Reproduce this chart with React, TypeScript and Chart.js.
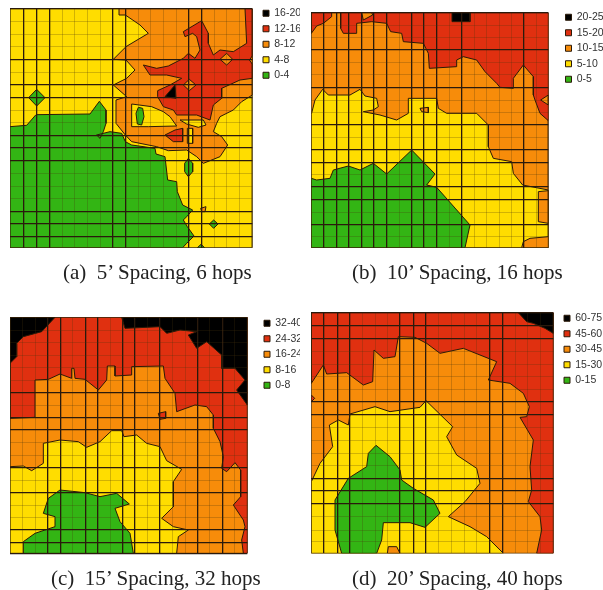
import React, { useEffect, useRef } from "react";
import { Chart, registerables } from "chart.js";
Chart.register(...registerables);

type Poly = number[];
type Layer = [number, Poly];

const colors = ["#000000", "#e03010", "#f78c0a", "#ffdd00", "#33b514"];
const lineColor = "#2b1a08";

const levelsA = ["16-20", "12-16", "8-12", "4-8", "0-4"];
const levelsB = ["20-25", "15-20", "10-15", "5-10", "0-5"];
const levelsC = ["32-40", "24-32", "16-24", "8-16", "0-8"];
const levelsD = ["60-75", "45-60", "30-45", "15-30", "0-15"];

const gridAx = [30, 70, 110, 148, 186, 224, 262, 300, 338, 376, 414, 452, 490, 528, 566, 604, 642, 680, 718, 757];
const gridAy = [26, 64, 102, 140, 178, 216, 254, 292, 330, 368, 406, 444, 482, 520, 558, 596, 634, 672, 710, 743];
const strongAx = [70, 110, 148, 338, 376, 566, 604];
const strongAy = [26, 178, 254, 292, 406, 444, 482, 634, 672, 710];

const gridBx = [34, 72, 110, 147, 185, 222, 260, 298, 335, 372, 410, 447, 485, 522, 560, 597, 634, 671, 708, 745];
const gridBy = [38, 75, 112, 150, 187, 224, 262, 300, 337, 374, 412, 449, 487, 524, 561, 599, 636, 673, 710, 743];
const strongBx = [72, 110, 147, 185, 222, 260, 335, 372, 410, 485, 671];
const strongBy = [38, 150, 262, 374, 449, 487, 561, 599, 673];

const gridCx = [30, 68, 106, 143, 181, 218, 256, 294, 331, 368, 405, 443, 480, 518, 555, 592, 629, 667, 704, 742];
const gridCy = [52, 90, 128, 165, 203, 240, 278, 315, 353, 390, 428, 465, 503, 540, 578, 615, 652, 690, 727, 760];
const strongCx = [143, 181, 256, 294, 368, 405, 480, 592, 667];
const strongCy = [278, 353, 390, 503, 578, 690, 727, 760];

const gridDx = [34, 72, 112, 150, 187, 225, 263, 300, 340, 378, 415, 455, 492, 530, 570, 608, 645, 683, 720, 760];
const gridDy = [38, 78, 116, 155, 192, 230, 268, 305, 344, 382, 420, 460, 497, 535, 573, 612, 650, 690, 725, 760];
const strongDx = [72, 112, 150, 300, 340, 378, 570, 608];
const strongDy = [38, 78, 116, 305, 344, 535, 573, 612];

// Contour regions, top layer first. [level index, x,y,x,y,...]
const layersA: Layer[] = [
  [0, [495, 290, 525, 255, 528, 295]],
  [2, [660, 178, 680, 160, 698, 178, 680, 195]],
  [2, [550, 255, 568, 238, 588, 255, 568, 272]],
  [2, [757, 168, 748, 180, 757, 192]],
  [3, [540, 360, 610, 360, 618, 375, 595, 382, 560, 372]],
  [3, [562, 385, 578, 385, 578, 430, 562, 430]],
  [1, [495, 405, 525, 390, 548, 385, 548, 425, 520, 425]],
  [1, [430, 195, 470, 205, 505, 198, 550, 175, 565, 160, 585, 175, 600, 150, 590, 110, 578, 100, 555, 110, 550, 95, 605, 62, 625, 100, 625, 130, 640, 165, 660, 150, 700, 155, 740, 130, 735, 26, 757, 26, 757, 235, 720, 240, 665, 265, 665, 295, 640, 315, 630, 360, 590, 345, 530, 345, 520, 330, 490, 320, 473, 290, 473, 272, 510, 255, 545, 235, 500, 225, 450, 225]],
  [4, [408, 340, 415, 322, 428, 325, 432, 350, 425, 375, 412, 372]],
  [3, [395, 312, 455, 320, 490, 335, 510, 350, 530, 378, 445, 380, 395, 380]],
  [2, [602, 625, 618, 620, 615, 635, 605, 635]],
  [2, [376, 26, 757, 26, 757, 285, 725, 305, 700, 330, 660, 350, 650, 370, 640, 395, 665, 410, 683, 435, 660, 470, 610, 490, 590, 470, 560, 450, 505, 452, 470, 440, 395, 425, 376, 405, 348, 370, 348, 300, 380, 290, 340, 255, 380, 235, 405, 210, 378, 180, 340, 178, 378, 140, 445, 100, 420, 75, 376, 45, 357, 45, 357, 26]],
  [4, [86, 293, 110, 268, 135, 293, 110, 318]],
  [4, [554, 490, 565, 475, 578, 490, 578, 515, 565, 530, 554, 515]],
  [4, [628, 672, 641, 660, 654, 672, 641, 685]],
  [4, [592, 743, 603, 733, 614, 743]],
  [4, [30, 380, 80, 376, 108, 344, 270, 342, 298, 304, 318, 330, 318, 370, 310, 395, 300, 415, 290, 405, 330, 395, 365, 400, 376, 425, 395, 435, 465, 445, 468, 462, 495, 470, 503, 540, 530, 545, 532, 575, 548, 615, 578, 630, 560, 650, 550, 660, 562, 680, 582, 708, 560, 730, 548, 743, 30, 743]],
  [3, [30, 26, 757, 26, 757, 743, 30, 743]],
];

const layersB: Layer[] = [
  [0, [456, 38, 510, 38, 510, 65, 456, 65]],
  [2, [722, 300, 745, 285, 745, 315]],
  [2, [185, 38, 215, 38, 218, 45, 190, 60]],
  [1, [34, 100, 50, 78, 70, 70, 95, 50, 95, 38, 34, 38]],
  [1, [122, 38, 122, 85, 130, 100, 168, 100, 170, 70, 215, 65, 260, 70, 272, 95, 305, 100, 310, 125, 370, 130, 385, 160, 388, 205, 470, 200, 470, 180, 490, 170, 530, 180, 555, 215, 590, 250, 600, 262, 640, 265, 640, 235, 670, 195, 700, 230, 700, 285, 705, 300, 720, 340, 745, 362, 745, 38]],
  [4, [34, 535, 50, 540, 90, 535, 100, 510, 145, 498, 180, 510, 220, 490, 260, 522, 335, 450, 405, 522, 380, 555, 410, 562, 510, 675, 495, 743, 34, 743]],
  [2, [360, 325, 385, 322, 385, 338, 365, 335]],
  [2, [715, 575, 745, 572, 745, 670, 715, 665]],
  [2, [745, 710, 690, 715, 670, 725, 665, 743, 745, 743]],
  [3, [34, 343, 45, 300, 68, 268, 85, 285, 150, 285, 180, 268, 195, 288, 230, 295, 235, 320, 220, 330, 190, 335, 240, 345, 290, 360, 325, 340, 325, 295, 410, 295, 415, 325, 440, 340, 530, 340, 550, 360, 565, 375, 565, 440, 580, 475, 635, 485, 640, 520, 668, 555, 745, 570, 745, 743, 34, 743]],
  [2, [34, 38, 745, 38, 745, 743, 34, 743]],
];

const layersC: Layer[] = [
  [0, [30, 52, 165, 52, 125, 95, 70, 110, 50, 130, 50, 170, 30, 190]],
  [0, [365, 52, 375, 85, 480, 80, 500, 100, 540, 90, 590, 95, 565, 105, 590, 145, 620, 125, 665, 165, 665, 205, 705, 205, 735, 240, 710, 270, 742, 315, 742, 52]],
  [1, [475, 340, 497, 335, 497, 355, 480, 358]],
  [1, [30, 355, 105, 352, 105, 240, 145, 238, 180, 222, 215, 235, 215, 205, 222, 205, 225, 235, 255, 238, 295, 270, 320, 240, 322, 198, 345, 198, 345, 228, 395, 225, 395, 200, 490, 198, 495, 235, 525, 280, 530, 335, 585, 315, 620, 320, 640, 345, 640, 385, 660, 425, 670, 470, 665, 505, 680, 515, 705, 488, 722, 510, 722, 590, 700, 615, 730, 660, 735, 680, 725, 720, 730, 760, 742, 760, 742, 52, 30, 52]],
  [4, [70, 760, 70, 725, 105, 700, 165, 680, 165, 650, 130, 640, 145, 595, 180, 570, 255, 578, 300, 590, 350, 580, 388, 612, 345, 625, 360, 665, 390, 700, 400, 760]],
  [3, [30, 500, 70, 498, 95, 512, 130, 490, 130, 430, 180, 420, 235, 425, 260, 442, 300, 425, 335, 392, 365, 392, 372, 410, 410, 405, 440, 430, 480, 440, 500, 482, 545, 508, 520, 545, 520, 620, 485, 655, 520, 680, 565, 690, 535, 710, 530, 760, 30, 760]],
  [2, [30, 52, 742, 52, 742, 760, 30, 760]],
];

const layersD: Layer[] = [
  [0, [655, 38, 760, 38, 760, 100, 735, 85, 700, 70, 680, 65]],
  [1, [34, 250, 70, 195, 80, 222, 140, 218, 190, 255, 218, 245, 222, 150, 250, 175, 285, 170, 295, 110, 345, 112, 380, 130, 420, 160, 490, 145, 540, 165, 590, 185, 565, 240, 630, 250, 670, 280, 688, 320, 680, 350, 660, 352, 700, 420, 690, 500, 695, 570, 685, 605, 720, 650, 725, 690, 710, 760, 760, 760, 760, 38, 34, 38]],
  [1, [34, 285, 44, 295, 34, 305]],
  [4, [105, 600, 145, 535, 200, 500, 205, 460, 228, 436, 270, 470, 300, 510, 305, 540, 340, 565, 400, 600, 420, 640, 375, 682, 330, 668, 250, 668, 245, 720, 230, 760, 125, 760, 105, 690]],
  [2, [262, 760, 265, 740, 290, 740, 300, 760]],
  [3, [34, 545, 60, 490, 98, 440, 88, 375, 115, 360, 145, 375, 150, 342, 225, 320, 270, 335, 360, 322, 378, 302, 458, 380, 440, 410, 470, 465, 530, 505, 540, 550, 495, 605, 445, 650, 510, 680, 560, 710, 610, 760, 34, 760]],
  [2, [34, 38, 760, 38, 760, 760, 34, 760]],
];

const captions = ["(a)  5’ Spacing, 6 hops", "(b)  10’ Spacing, 16 hops", "(c)  15’ Spacing, 32 hops", "(d)  20’ Spacing, 40 hops"];

const panels = [
  { left: 0, top: 0, w: 300, layers: layersA, levels: levelsA, gx: gridAx, gy: gridAy, sx: strongAx, sy: strongAy, legendX: 263, legendY: 8, capX: 63, capY: 260 },
  { left: 300, top: 0, w: 303, layers: layersB, levels: levelsB, gx: gridBx, gy: gridBy, sx: strongBx, sy: strongBy, legendX: 265.5, legendY: 12, capX: 52, capY: 260 },
  { left: 0, top: 300, w: 300, layers: layersC, levels: levelsC, gx: gridCx, gy: gridCy, sx: strongCx, sy: strongCy, legendX: 264, legendY: 18, capX: 51, capY: 266 },
  { left: 300, top: 300, w: 303, layers: layersD, levels: levelsD, gx: gridDx, gy: gridDy, sx: strongDx, sy: strongDy, legendX: 264, legendY: 13, capX: 52, capY: 266 },
];

const H = 290;

const polyFill = {
  id: "polyFill",
  beforeDatasetDraw(chart: any, args: any) {
    const pts = chart.getDatasetMeta(args.index).data;
    const ctx = chart.ctx;
    ctx.save();
    ctx.beginPath();
    pts.forEach((p: any, i: number) => (i ? ctx.lineTo(p.x, p.y) : ctx.moveTo(p.x, p.y)));
    ctx.closePath();
    ctx.fillStyle = chart.data.datasets[args.index].backgroundColor;
    ctx.fill();
    ctx.restore();
  },
};

const placeLegend = {
  id: "placeLegend",
  afterLayout(chart: any, _a: any, o: any) {
    const l = chart.legend;
    if (l) {
      l.left = o.x - 5;
      l.top = o.y - 5;
      l.right = l.left + 70;
      l.bottom = l.top + 110;
    }
  },
};

function axis(grid: number[], strong: number[], reverse: boolean) {
  return {
    type: "linear" as const,
    min: grid[0],
    max: grid[grid.length - 1],
    reverse,
    afterBuildTicks(s: any) {
      s.ticks = grid.map((value) => ({ value }));
    },
    ticks: { display: false },
    border: { display: false },
    grid: {
      z: 1,
      drawTicks: false,
      color: (c: any) => (strong.includes(c.tick?.value) ? "#2a1a0c" : "rgba(70,50,10,0.25)"),
      lineWidth: (c: any) => (strong.includes(c.tick?.value) ? 1.3 : 1),
    },
  };
}

function Panel({ p, caption }: { p: (typeof panels)[number]; caption: string }) {
  const ref = useRef<HTMLCanvasElement>(null);
  useEffect(() => {
    const datasets = p.layers.map(([lvl, poly]) => {
      const data: { x: number; y: number }[] = [];
      for (let i = 0; i < poly.length; i += 2) data.push({ x: poly[i], y: poly[i + 1] });
      data.push({ x: poly[0], y: poly[1] });
      return {
        label: p.levels[lvl],
        data,
        showLine: true,
        backgroundColor: colors[lvl],
        borderColor: lineColor,
        borderWidth: 1,
        pointRadius: 0,
        tension: 0,
      };
    });
    const xMin = p.gx[0] / 3, xMax = p.gx[p.gx.length - 1] / 3;
    const yMin = p.gy[0] / 3, yMax = p.gy[p.gy.length - 1] / 3;
    const chart = new Chart(ref.current!, {
      type: "scatter",
      data: { datasets },
      plugins: [polyFill, placeLegend],
      options: {
        animation: false,
        responsive: false,
        devicePixelRatio: 1,
        layout: { padding: { left: xMin, top: yMin, right: p.w - xMax, bottom: H - yMax } },
        scales: { x: axis(p.gx, p.sx, false), y: axis(p.gy, p.sy, true) },
        plugins: {
          tooltip: { enabled: false },
          placeLegend: { x: p.legendX, y: p.legendY },
          legend: {
            position: "chartArea",
            align: "start",
            labels: {
              boxWidth: 6,
              boxHeight: 6,
              padding: 5,
              color: "#333",
              font: { family: "Liberation Sans", size: 10.5 },
              filter: (it: any, d: any) => d.datasets.findIndex((s: any) => s.label === it.text) === it.datasetIndex,
              sort: (a: any, b: any) => p.levels.indexOf(a.text) - p.levels.indexOf(b.text),
            },
          },
        },
      } as any,
    });
    return () => chart.destroy();
  }, []);
  return (
    <div style={{ position: "absolute", left: p.left, top: p.top, width: p.w, height: H }}>
      <canvas ref={ref} width={p.w} height={H} style={{ display: "block", filter: "blur(0.4px)" }} />
      <div style={{ position: "absolute", left: p.capX, top: p.capY, whiteSpace: "pre", font: "21px 'Liberation Serif'", color: "#222" }}>{caption}</div>
    </div>
  );
}

export default function App() {
  return (
    <div style={{ position: "absolute", left: 0, top: 0, width: 603, height: 590, overflow: "hidden", background: "#fff" }}>
      {panels.map((p, i) => (
        <Panel key={i} p={p} caption={captions[i]} />
      ))}
    </div>
  );
}
